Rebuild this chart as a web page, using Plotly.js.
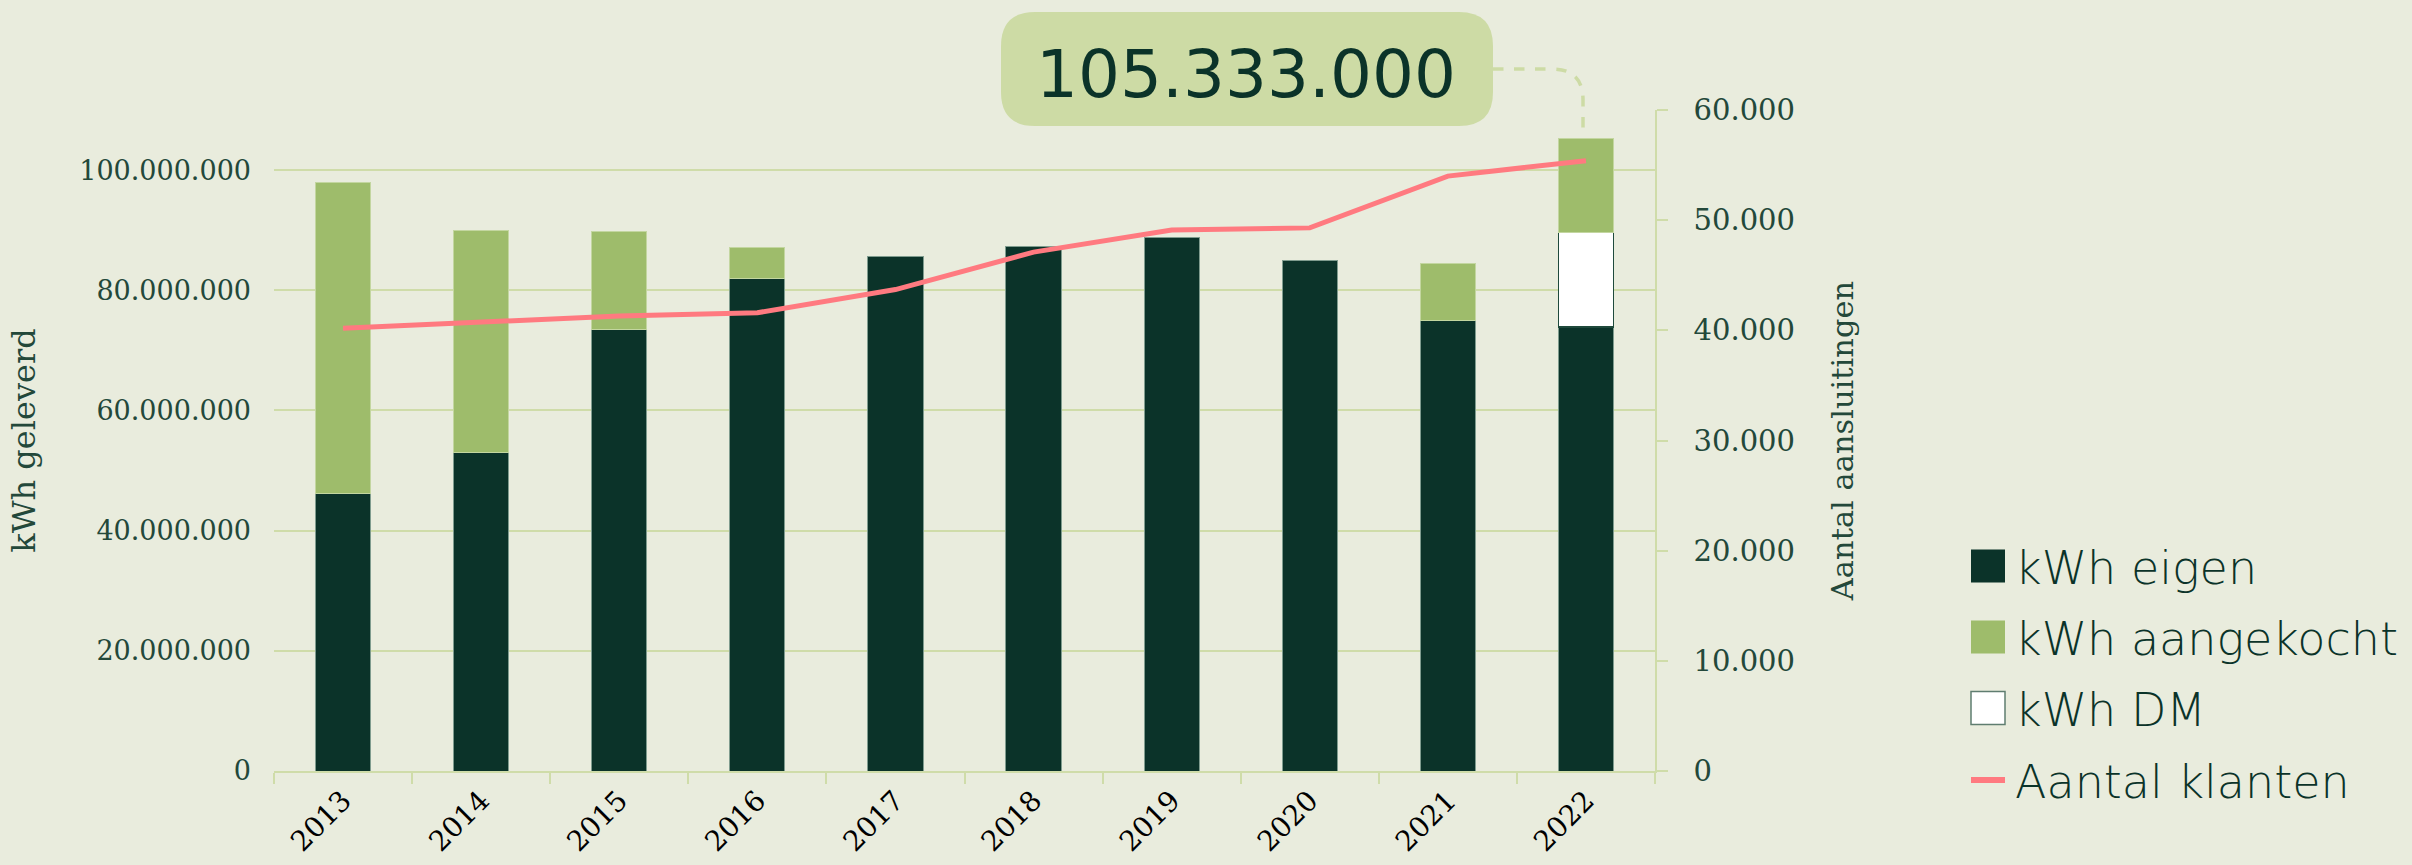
<!DOCTYPE html>
<html>
<head>
<meta charset="utf-8">
<script src="https://cdn.plot.ly/plotly-3.0.1.min.js"></script>
<style>
  html, body { margin: 0; padding: 0; background: #e9ecdd; }
  #chart { width: 2412px; height: 865px; }
</style>
</head>
<body>
<div id="chart"></div>
<script>
// ---- data ----
const years = ['2013', '2014', '2015', '2016', '2017', '2018', '2019', '2020', '2021', '2022'];
const kwhEigen = [46100000, 53000000, 73500000, 81900000, 85600000, 87300000, 88700000, 85000000, 75000000, 73900000];
const kwhDM = [null, null, null, null, null, null, null, null, null, 15700000];
const kwhAangekocht = [51800000, 36900000, 16300000, 5200000, null, null, null, null, 9400000, 15733000];
const aantalKlanten = [40200, 40800, 41300, 41600, 43700, 47100, 49100, 49300, 54000, 55400];
const seriesNames = ['kWh eigen', 'kWh aangekocht', 'kWh DM', 'Aantal klanten'];
const leftTicks = [0, 20000000, 40000000, 60000000, 80000000, 100000000];
const rightTicks = [0, 10000, 20000, 30000, 40000, 50000, 60000];

// ---- style ----
const BG = '#e9ecdd';
const DARK = '#0b3329';
const GREEN = '#9ebc6b';
const PINK = '#ff7a80';
const GRID = '#cfdca9';
const BOX = '#cddba5';
const TEXT = '#23483a';

const W = 2412, H = 865, L = 274, R = 1655, T = 110, B = 771;
const px = p => (p - L) / (R - L);
const py = p => (B - p) / (B - T);

const fmt = v => Math.round(v).toString().replace(/\B(?=(\d{3})+(?!\d))/g, '.');

const traces = [
  {
    type: 'bar', name: seriesNames[0], x: years, y: kwhEigen,
    marker: { color: DARK, line: { color: '#7f9c8e', width: 1 } },
    showlegend: false, hoverinfo: 'x+y'
  },
  {
    type: 'bar', name: seriesNames[2], x: years, y: kwhDM,
    marker: { color: '#ffffff', line: { color: '#1f4a3c', width: 1.5 } },
    showlegend: false
  },
  {
    type: 'bar', name: seriesNames[1], x: years, y: kwhAangekocht,
    marker: { color: GREEN, line: { color: '#c3d6a0', width: 1 } },
    showlegend: false
  },
  {
    type: 'scatter', mode: 'lines', name: seriesNames[3], x: years, y: aantalKlanten,
    yaxis: 'y2', line: { color: PINK, width: 5 },
    showlegend: false
  }
];

// rounded box for the total annotation (pixel geometry -> paper)
function roundRect(x1, y1, x2, y2, r) {
  const P = (x, y) => px(x) + ',' + py(y);
  return 'M' + P(x1 + r, y1) + ' L' + P(x2 - r, y1) + ' Q' + P(x2, y1) + ' ' + P(x2, y1 + r) +
    ' L' + P(x2, y2 - r) + ' Q' + P(x2, y2) + ' ' + P(x2 - r, y2) +
    ' L' + P(x1 + r, y2) + ' Q' + P(x1, y2) + ' ' + P(x1, y2 - r) +
    ' L' + P(x1, y1 + r) + ' Q' + P(x1, y1) + ' ' + P(x1 + r, y1) + ' Z';
}
const P = (x, y) => px(x) + ',' + py(y);
const connector = 'M' + P(1493, 69) + ' L' + P(1552, 69) + ' Q' + P(1583, 69) + ' ' + P(1583, 100) + ' L' + P(1583, 138);

const shapes = [
  { type: 'path', xref: 'paper', yref: 'paper', path: roundRect(1001, 12, 1493, 126, 34), fillcolor: BOX, line: { width: 0 }, layer: 'above' },
  { type: 'path', xref: 'paper', yref: 'paper', path: connector, line: { color: BOX, width: 3.5, dash: 'dash' }, layer: 'below' }
];

// custom legend (large symbols as in reference)
const legendColors = [DARK, GREEN, '#ffffff', PINK];
const legendY = [566, 637, 708, 780];
const annotations = [];
for (let i = 0; i < seriesNames.length; i++) {
  const yc = legendY[i];
  if (i < 3) {
    shapes.push({
      type: 'rect', xref: 'paper', yref: 'paper',
      x0: px(1971), x1: px(2005), y0: py(yc - 16.5), y1: py(yc + 16.5),
      fillcolor: legendColors[i],
      line: i === 2 ? { color: '#5f7d70', width: 1.5 } : { width: 0 }
    });
  } else {
    shapes.push({
      type: 'line', xref: 'paper', yref: 'paper',
      x0: px(1971), x1: px(2005), y0: py(yc), y1: py(yc),
      line: { color: PINK, width: 6 }
    });
  }
  annotations.push({
    xref: 'paper', yref: 'paper', x: px(2013), y: py(yc + 2), xanchor: 'left', yanchor: 'middle',
    text: seriesNames[i], showarrow: false,
    font: { family: 'DejaVu Sans', size: 46, color: DARK, weight: 200 }
  });
}

const total2022 = kwhEigen[9] + (kwhDM[9] || 0) + (kwhAangekocht[9] || 0);
annotations.push({
  xref: 'paper', yref: 'paper', x: px(1246), y: py(75), xanchor: 'center', yanchor: 'middle',
  text: fmt(total2022), showarrow: false,
  font: { family: 'DejaVu Sans', size: 66, color: DARK }
});

const layout = {
  width: W, height: H,
  paper_bgcolor: BG, plot_bgcolor: BG,
  margin: { l: L, r: W - R, t: T, b: H - B, pad: 0 },
  barmode: 'stack', bargap: 0.6,
  separators: ',.',
  showlegend: false,
  xaxis: {
    type: 'category', tickson: 'boundaries', ticks: 'outside', ticklen: 11, tickwidth: 1.5, tickcolor: GRID,
    showline: true, linecolor: GRID, linewidth: 2, showgrid: false, zeroline: false,
    tickangle: -45, tickfont: { family: 'DejaVu Serif', size: 28, color: '#000000' },
    fixedrange: true
  },
  yaxis: {
    range: [0, 110000000], tickvals: leftTicks, ticktext: leftTicks.map(fmt),
    showgrid: true, gridcolor: GRID, gridwidth: 1.5, zeroline: false, showline: false, ticks: '',
    ticklabelstandoff: 22,
    tickfont: { family: 'DejaVu Serif', size: 27, color: TEXT },
    title: { text: 'kWh geleverd', standoff: 34, font: { family: 'DejaVu Serif', size: 32, color: TEXT } },
    automargin: false, fixedrange: true
  },
  yaxis2: {
    overlaying: 'y', side: 'right', range: [0, 60000], tickvals: rightTicks, ticktext: rightTicks.map(fmt),
    showgrid: false, zeroline: false, showline: true, linecolor: GRID, linewidth: 1.5,
    ticks: 'outside', ticklen: 11, tickwidth: 1.5, tickcolor: GRID,
    ticklabelstandoff: 20,
    tickfont: { family: 'DejaVu Serif', size: 29, color: TEXT },
    title: { text: 'Aantal aansluitingen', standoff: 38, font: { family: 'DejaVu Serif', size: 30.5, color: TEXT } },
    automargin: false, fixedrange: true
  },
  shapes: shapes,
  annotations: annotations
};

Plotly.newPlot('chart', traces, layout, { displayModeBar: false, staticPlot: false });
</script>
</body>
</html>
